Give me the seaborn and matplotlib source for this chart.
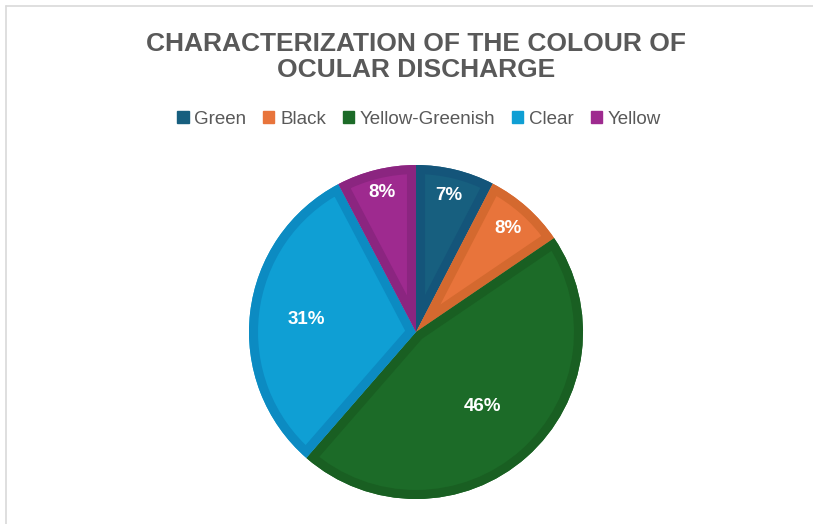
import matplotlib.pyplot as plt
import seaborn as sns
from matplotlib.patches import Patch, PathPatch
from matplotlib.lines import Line2D
import numpy as np

# Data
categories = ["Green", "Black", "Yellow-Greenish", "Clear", "Yellow"]
shares = [7.6, 7.9, 45.9, 30.9, 7.7]
pct_labels = ["7%", "8%", "46%", "31%", "8%"]
fill_colors = ["#175F7F", "#E8743B", "#1C6B28", "#0F9FD4", "#9E2A8F"]
edge_colors = ["#14557A", "#D4692F", "#195F22", "#0C8BC2", "#8B2580"]

sns.set_theme(style="white")
plt.rcParams["font.family"] = ["Liberation Sans", "DejaVu Sans"]

fig = plt.figure(figsize=(8.13, 5.24), dpi=100)

# light grey chart frame (top and left only, the rest is cropped)
fig.add_artist(Line2D([6 / 813, 6 / 813], [0, 1 - 6 / 524], color="#D9D9D9", lw=1.2))
fig.add_artist(Line2D([6 / 813, 1], [1 - 6 / 524, 1 - 6 / 524], color="#D9D9D9", lw=1.2))

cx, cy, r = 416, 332, 167
ax = fig.add_axes([(cx - r) / 813, (524 - cy - r) / 524, 2 * r / 813, 2 * r / 524])
wedges, _ = ax.pie(shares, colors=fill_colors, startangle=90, counterclock=False,
                   radius=1, wedgeprops=dict(linewidth=0))
ax.set_xlim(-1, 1)
ax.set_ylim(-1, 1)
ax.set_aspect("equal")

# Excel-like inner border: a thick stroke clipped to the wedge itself
for w, ec in zip(wedges, edge_colors):
    border = PathPatch(w.get_path(), facecolor="none", edgecolor=ec, linewidth=13,
                       transform=w.get_transform())
    ax.add_patch(border)
    border.set_clip_path(w.get_path(), w.get_transform())

# percentage labels, placed like Excel's best fit
label_r = [0.84, 0.83, 0.60, 0.66, 0.86]
for w, lab, rr in zip(wedges, pct_labels, label_r):
    ang = np.deg2rad((w.theta1 + w.theta2) / 2)
    ax.text(rr * np.cos(ang), rr * np.sin(ang), lab, ha="center", va="center",
            color="white", fontsize=13.5, fontweight="bold")
ax.axis("off")

fig.text(416 / 813, 1 - 57 / 524, "CHARACTERIZATION OF THE COLOUR OF\nOCULAR DISCHARGE",
         ha="center", va="center", fontsize=19, fontweight="bold", color="#595959",
         linespacing=1.15)

handles = [Patch(facecolor=c, edgecolor=c) for c in fill_colors]
fig.legend(handles, categories, loc="center", bbox_to_anchor=(419 / 813, 1 - 119 / 524),
           ncol=5, frameon=False, fontsize=13.5, handlelength=0.6, handleheight=0.6,
           handletextpad=0.3, columnspacing=0.9, labelcolor="#595959")

fig.savefig("out.png", dpi=100, facecolor="white")
